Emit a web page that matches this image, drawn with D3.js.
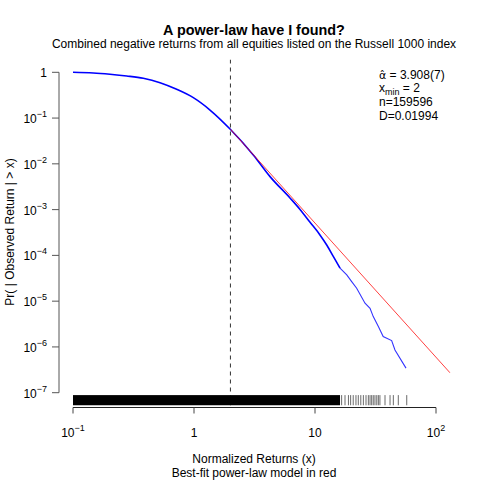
<!DOCTYPE html>
<html><head><meta charset="utf-8">
<script src="https://cdn.jsdelivr.net/npm/d3@7"></script>
<style>body{margin:0;background:#fff} text{font-family:"Liberation Sans",Arial,Helvetica,sans-serif}</style>
</head><body><svg id="c" width="480" height="480"></svg>
<script>
const ccdfX = [0.1, 0.147, 0.202, 0.278, 0.381, 0.524, 0.719, 0.987, 1.356, 1.995, 3.09, 4.25, 6.21, 7.52, 9.10, 10.99, 12.5, 14.2, 16.1, 18.3, 20.1, 22.1, 25.9, 28.5, 30.3, 33.4, 36.6, 43.0, 45.8, 56.5];
const ccdfY = [1, 0.965, 0.904, 0.830, 0.740, 0.593, 0.425, 0.279, 0.150, 0.0569, 0.01564, 0.00526, 1.80e-3, 1.01e-3, 5.3e-4, 2.80e-4, 1.69e-4, 9.4e-5, 5.26e-5, 3.75e-5, 2.68e-5, 1.92e-5, 9.0e-6, 7.0e-6, 4.6e-6, 2.8e-6, 1.69e-6, 1.38e-6, 8.6e-7, 3.44e-7];
// Fitted power-law line endpoints
const fitX = [2, 130.6];
const fitY = [0.0569, 2.72e-7];
const xminValue = 2;
// Rug: dense range plus individual tail observations
const rugDense = [0.1, 16.1];
const rugTail = [16.6, 17.7, 18.9, 19.7, 20.7, 21.8, 22.8, 23.9, 25.1, 26.4, 27.6, 28.5, 29.4, 30.3, 31.3, 32.4, 33.4, 34.4, 37.9, 41.7, 44.4, 48.8, 57.3];
const xTicks = [0.1, 1, 10, 100];
const xTickBase = ["10", "1", "10", "10"];
const xTickExp = ["\u22121", "", "", "2"];
const yTicks = [1, 1e-1, 1e-2, 1e-3, 1e-4, 1e-5, 1e-6, 1e-7];
const yTickBase = ["1", "10", "10", "10", "10", "10", "10", "10"];
const yTickExp = ["", "\u22121", "\u22122", "\u22123", "\u22124", "\u22125", "\u22126", "\u22127"];
const titleText = "A power-law have I found?";
const subtitleText = "Combined negative returns from all equities listed on the Russell 1000 index";
const xLabel1 = "Normalized Returns (x)";
const xLabel2 = "Best-fit power-law model in red";
const yLabel = "Pr( | Observed Return | > x)";
const alphaSym = "\u03b1\u0302";
const alphaText = " = 3.908(7)";
const xminText = " = 2";
const nText = "n=159596";
const dText = "D=0.01994";

const svg = d3.select("#c");
const x = d3.scaleLog().domain([0.1, 100]).range([73, 436]);
const y = d3.scaleLog().domain([1e-7, 1]).range([392.7, 72.3]);
const plot = {l: 58.5, r: 450.5, t: 59.5, b: 405.5};

svg.append("defs").append("clipPath").attr("id", "clip")
  .append("rect").attr("x", plot.l).attr("y", plot.t)
  .attr("width", plot.r - plot.l).attr("height", plot.b - plot.t);

// Title / subtitle
svg.append("text").attr("x", 254).attr("y", 35).attr("text-anchor", "middle")
  .attr("font-size", 14.4).attr("font-weight", "bold").text(titleText);
svg.append("text").attr("x", 254).attr("y", 48).attr("text-anchor", "middle")
  .attr("font-size", 12).text(subtitleText);

const g = svg.append("g").attr("clip-path", "url(#clip)");

// dashed xmin line
g.append("line").attr("x1", x(xminValue)).attr("x2", x(xminValue))
  .attr("y1", plot.t).attr("y2", plot.b)
  .attr("stroke", "#333").attr("stroke-width", 1).attr("stroke-dasharray", "4,4");

// rug
g.append("rect").attr("x", x(rugDense[0])).attr("width", x(rugDense[1]) - x(rugDense[0]))
  .attr("y", plot.b - 10.4).attr("height", 10.4).attr("fill", "#000");
g.selectAll("line.rug").data(rugTail).enter().append("line").attr("class", "rug")
  .attr("x1", d => x(d)).attr("x2", d => x(d))
  .attr("y1", plot.b - 10.4).attr("y2", plot.b)
  .attr("stroke", "#000").attr("stroke-width", 0.9).attr("stroke-opacity", 0.65);

// CCDF line
const pts = ccdfX.map((v, i) => [v, ccdfY[i]]);
const line = d3.line().x(d => x(d[0])).y(d => y(d[1]));
const curve = d3.line().x(d => x(d[0])).y(d => y(d[1])).curve(d3.curveMonotoneX);
const splitAt = ccdfX.findIndex(v => v >= 16.1);
g.append("path").attr("d", curve(pts.slice(0, splitAt + 1))).attr("fill", "none")
  .attr("stroke", "#0000ff").attr("stroke-width", 1.6);
g.append("path").attr("d", line(pts.slice(splitAt))).attr("fill", "none")
  .attr("stroke", "#0000ff").attr("stroke-width", 1.1).attr("stroke-opacity", 0.8);

// fitted line
g.append("path").attr("d", line(fitX.map((v, i) => [v, fitY[i]]))).attr("fill", "none")
  .attr("stroke", "#ff0000").attr("stroke-width", 1).attr("stroke-opacity", 0.75);

// Axes
const ax = svg.append("g");
ax.append("line").attr("x1", x(xTicks[0])).attr("x2", x(xTicks[xTicks.length - 1]))
  .attr("y1", 407.5).attr("y2", 407.5).attr("stroke", "#222");
xTicks.forEach((t, i) => {
  ax.append("line").attr("x1", x(t)).attr("x2", x(t)).attr("y1", 407.5).attr("y2", 413.5).attr("stroke", "#444");
  const tx = ax.append("text").attr("x", x(t)).attr("y", 437).attr("text-anchor", "middle").attr("font-size", 12);
  tx.append("tspan").text(xTickBase[i]);
  if (xTickExp[i]) tx.append("tspan").attr("dy", -6).attr("font-size", 9).text(xTickExp[i]);
});
ax.append("line").attr("x1", 59).attr("x2", 59)
  .attr("y1", y(yTicks[0])).attr("y2", y(yTicks[yTicks.length - 1])).attr("stroke", "#555");
yTicks.forEach((t, i) => {
  ax.append("line").attr("x1", 52).attr("x2", 59).attr("y1", y(t)).attr("y2", y(t)).attr("stroke", "#555");
  const tx = ax.append("text").attr("x", 47).attr("y", y(t) + 5).attr("text-anchor", "end").attr("font-size", 12);
  tx.append("tspan").text(yTickBase[i]);
  if (yTickExp[i]) tx.append("tspan").attr("dy", -6).attr("font-size", 9).text(yTickExp[i]);
});

// Axis labels
svg.append("text").attr("x", 254).attr("y", 463).attr("text-anchor", "middle").attr("font-size", 12).text(xLabel1);
svg.append("text").attr("x", 254).attr("y", 477).attr("text-anchor", "middle").attr("font-size", 12).text(xLabel2);
svg.append("text").attr("transform", "translate(13.5,232) rotate(-90)").attr("text-anchor", "middle")
  .attr("font-size", 12).text(yLabel);

// Annotation
const ann = svg.append("g");
const a1 = ann.append("text").attr("x", 379).attr("y", 78.5).attr("font-size", 12);
a1.append("tspan").attr("font-family", "DejaVu Sans").attr("font-size", 11).text(alphaSym);
a1.append("tspan").text(alphaText);
const a2 = ann.append("text").attr("x", 379).attr("y", 92).attr("font-size", 12);
a2.append("tspan").text("x");
a2.append("tspan").attr("dy", 2.5).attr("font-size", 9).text("min");
a2.append("tspan").attr("dy", -2.5).text(xminText);
ann.append("text").attr("x", 379).attr("y", 106).attr("font-size", 12).text(nText);
ann.append("text").attr("x", 379).attr("y", 120).attr("font-size", 12).text(dText);
</script></body></html>
